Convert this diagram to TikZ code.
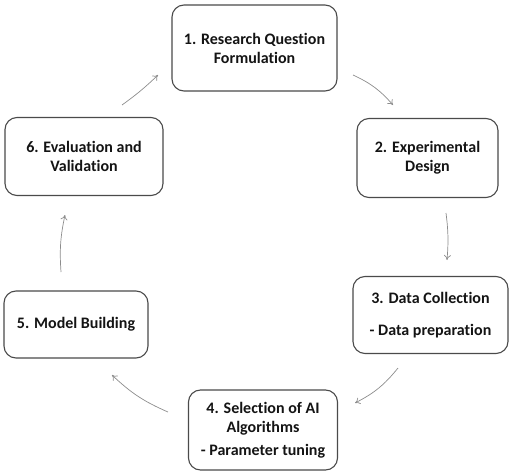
\documentclass[tikz,border=0pt]{standalone}
\usepackage{fontspec}
\setmainfont{Carlito}[Ligatures=NoCommon]
\usetikzlibrary{positioning, arrows.meta}
\definecolor{boxline}{HTML}{4A4A4A}
\definecolor{flowline}{HTML}{8C8C8C}
\definecolor{boxtext}{HTML}{141414}
\tikzset{
    x=1pt, y=-1pt, % pixel-like units, y pointing down
    stage/.style={draw=boxline, line width=1.1pt, rounded corners=12pt, fill=white,
        align=center, text=boxtext, font=\fontsize{16}{19}\selectfont\bfseries,
        inner sep=0pt}, % sets the look of each stage box
    flow/.style={draw=flowline, line width=0.7pt, -{To[length=5pt,width=7pt]}}, % cycle arrows
}

\begin{document}
\begin{tikzpicture}
    \useasboundingbox (0,0) rectangle (512,471);
    \node[stage, minimum width=165pt, minimum height=86pt] (question) at (254.5,48) {1. Research Question\\Formulation};
    \node[stage, minimum width=141pt, minimum height=79pt] (design) at (427.5,158) {2. Experimental\\Design};
    \node[stage, minimum width=155pt, minimum height=77pt] (collect) at (430.5,315) {3. Data Collection\\[13pt]- Data preparation};
    \node[stage, minimum width=149pt, minimum height=80pt] (select) at (263,430) {4. Selection of AI\\Algorithms\\[4pt]- Parameter tuning};
    \node[stage, minimum width=144pt, minimum height=67pt] (build) at (76,324.5) {5. Model Building};
    \node[stage, minimum width=158pt, minimum height=78pt] (evaluate) at (84,156.5) {6. Evaluation and\\Validation};
    % arrows around the cycle
    \coordinate (a1) at (353,75);  \coordinate (b1) at (393,105);
    \coordinate (a2) at (446,213); \coordinate (b2) at (447,260);
    \coordinate (a3) at (398,368); \coordinate (b3) at (355,403);
    \coordinate (a4) at (168,412); \coordinate (b4) at (112,375);
    \coordinate (a5) at (61,272);  \coordinate (b5) at (65,215);
    \coordinate (a6) at (122,105); \coordinate (b6) at (158,75);
    \draw[flow] (a1) to[bend left=12] (b1);
    \draw[flow] (a2) to[bend left=6] (b2);
    \draw[flow] (a3) to[bend left=12] (b3);
    \draw[flow] (a4) to[bend left=10] (b4);
    \draw[flow] (a5) to[bend left=8] (b5);
    \draw[flow] (a6) to[bend right=4] (b6);
\end{tikzpicture}
\end{document}
